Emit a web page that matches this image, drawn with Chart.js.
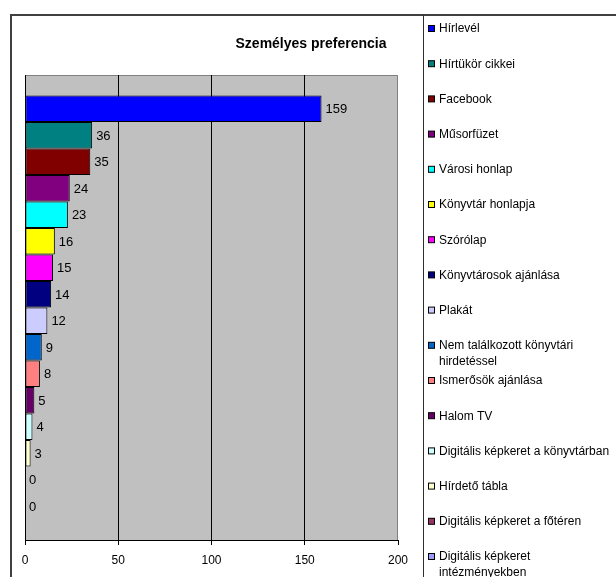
<!DOCTYPE html>
<html>
<head>
<meta charset="utf-8">
<script src="https://cdn.jsdelivr.net/npm/chart.js@4.4.0/dist/chart.umd.min.js"></script>
<style>
html, body { margin: 0; padding: 0; background: #fff; }
#wrap { width: 616px; height: 577px; }
</style>
</head>
<body>
<div id="wrap"><canvas id="prefChart" width="616" height="577"></canvas></div>
<script>
// data
const categories = [
    'Hírlevél', 'Hírtükör cikkei', 'Facebook', 'Műsorfüzet', 'Városi honlap',
    'Könyvtár honlapja', 'Szórólap', 'Könyvtárosok ajánlása', 'Plakát',
    'Nem találkozott könyvtári hirdetéssel', 'Ismerősök ajánlása', 'Halom TV',
    'Digitális képkeret a könyvtárban', 'Hírdető tábla', 'Digitális képkeret a főtéren',
    'Digitális képkeret intézményekben'
];
const values = [159, 36, 35, 24, 23, 16, 15, 14, 12, 9, 8, 5, 4, 3, 0, 0];
const colors = [
    '#0000FF', '#008080', '#800000', '#800080', '#00FFFF', '#FFFF00', '#FF00FF', '#000080',
    '#CCCCFF', '#0066CC', '#FF8080', '#660066', '#CCFFFF', '#FFFFCC', '#993366', '#9999FF'
];
const xTicks = [0, 50, 100, 150, 200];
const chartTitle = 'Személyes preferencia';

const FONT = "'Liberation Sans', Arial, sans-serif";

// gray plot background like the old Excel charts
const plotBackground = {
    id: 'plotBackground',
    beforeDraw(chart) {
        const ctx = chart.ctx;
        const a = chart.chartArea;
        ctx.save();
        ctx.fillStyle = '#C0C0C0';
        ctx.fillRect(a.left, a.top, a.right - a.left, a.bottom - a.top);
        ctx.strokeStyle = '#808080';
        ctx.lineWidth = 1;
        ctx.beginPath();
        ctx.moveTo(a.left, a.top + 0.5);
        ctx.lineTo(a.right - 0.5, a.top + 0.5);
        ctx.lineTo(a.right - 0.5, a.bottom);
        ctx.stroke();
        ctx.restore();
    }
};

// value next to the end of each bar
const barValues = {
    id: 'barValues',
    afterDatasetsDraw(chart) {
        const ctx = chart.ctx;
        ctx.save();
        ctx.font = '13px ' + FONT;
        ctx.fillStyle = '#000';
        ctx.textBaseline = 'middle';
        chart.data.datasets.forEach((ds, i) => {
            const bar = chart.getDatasetMeta(i).data[0];
            ctx.fillText(String(ds.data[0]), bar.x + 4, bar.y + 1);
        });
        ctx.restore();
    }
};

function wrapText(ctx, text, maxWidth) {
    var words = text.split(' ');
    var lines = [];
    var line = '';
    words.forEach(w => {
        var test = line ? line + ' ' + w : w;
        if (line && ctx.measureText(test).width > maxWidth) {
            lines.push(line);
            line = w;
        } else {
            line = test;
        }
    });
    lines.push(line);
    return lines;
}

// frame, title and the legend column on the right
const frameAndLegend = {
    id: 'frameAndLegend',
    afterDraw(chart) {
        const ctx = chart.ctx;
        ctx.save();

        ctx.strokeStyle = '#404040';
        ctx.lineWidth = 2;
        ctx.beginPath();
        ctx.moveTo(11, 577);
        ctx.lineTo(11, 15);
        ctx.lineTo(616, 15);
        ctx.stroke();

        ctx.strokeStyle = '#303030';
        ctx.lineWidth = 1;
        ctx.beginPath();
        ctx.moveTo(423.5, 15);
        ctx.lineTo(423.5, 577);
        ctx.stroke();

        ctx.fillStyle = '#000';
        ctx.font = 'bold 14px ' + FONT;
        ctx.textAlign = 'center';
        ctx.textBaseline = 'alphabetic';
        ctx.fillText(chartTitle, 311, 48);

        ctx.textAlign = 'left';
        ctx.textBaseline = 'middle';
        ctx.font = '12px ' + FONT;
        chart.data.datasets.forEach((ds, i) => {
            var y = 29 + i * 35.2;
            ctx.fillStyle = ds.backgroundColor;
            ctx.fillRect(428.5, y - 3.5, 6, 6);
            ctx.strokeStyle = '#000';
            ctx.strokeRect(428.5, y - 3.5, 6, 6);
            ctx.fillStyle = '#000';
            wrapText(ctx, ds.label, 176).forEach((line, k) => {
                ctx.fillText(line, 439, y + k * 16);
            });
        });
        ctx.restore();
    }
};

const ctx = document.getElementById('prefChart').getContext('2d');
const mainChart = new Chart(ctx, {
    type: 'bar',
    data: {
        labels: [''],
        datasets: categories.map((name, i) => ({
            label: name,
            data: [values[i]],
            backgroundColor: colors[i],
            borderColor: '#000',
            borderWidth: 1,
            borderSkipped: false,
            categoryPercentage: 0.912,
            barPercentage: 1
        }))
    },
    options: {
        indexAxis: 'y',
        responsive: false,
        animation: false,
        layout: {
            padding: { left: 25, right: 218, top: 75, bottom: 0 }
        },
        plugins: {
            legend: { display: false },
            title: { display: false },
            tooltip: { enabled: false }
        },
        scales: {
            x: {
                min: xTicks[0],
                max: xTicks[xTicks.length - 1],
                afterBuildTicks: scale => {
                    scale.ticks = xTicks.map(v => ({ value: v }));
                },
                afterFit: scale => { scale.height = 37; },
                ticks: {
                    color: '#000',
                    font: { family: FONT, size: 12 },
                    padding: 8
                },
                grid: {
                    color: c => (c.tick && (c.tick.value === xTicks[0] || c.tick.value === xTicks[xTicks.length - 1])) ? 'rgba(0,0,0,0)' : '#000',
                    tickColor: '#000',
                    tickLength: 5
                },
                border: { display: true, color: '#000', width: 1 }
            },
            y: {
                ticks: { display: false },
                grid: { display: false },
                border: { display: true, color: '#000', width: 1 },
                afterFit: scale => { scale.width = 0; }
            }
        }
    },
    plugins: [plotBackground, barValues, frameAndLegend]
});
</script>
</body>
</html>
